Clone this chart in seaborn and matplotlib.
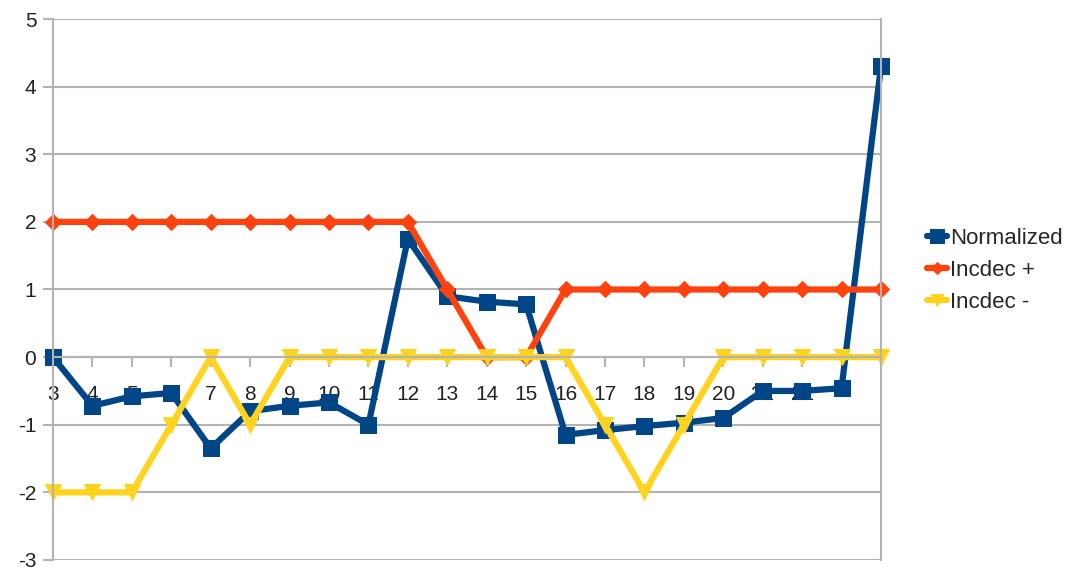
import matplotlib
matplotlib.use("Agg")
import matplotlib.pyplot as plt
import seaborn as sns
import pandas as pd

positions = list(range(3, 25))
tick_labels = [str(v) for v in range(3, 23)] + ["", ""]
normalized = [0.0, -0.72, -0.58, -0.53, -1.35, -0.8, -0.72, -0.67, -1.0, 1.75, 0.9,
              0.82, 0.78, -1.15, -1.08, -1.02, -0.97, -0.9, -0.5, -0.5, -0.46, 4.3]
incdec_plus = [2, 2, 2, 2, 2, 2, 2, 2, 2, 2, 1, 0, 0, 1, 1, 1, 1, 1, 1, 1, 1, 1]
incdec_minus = [-2, -2, -2, -1, 0, -1, 0, 0, 0, 0, 0, 0, 0, 0, -1, -2, -1, 0, 0, 0, 0, 0]

series_names = ["Normalized", "Incdec +", "Incdec -"]
colors = {"Normalized": "#004586", "Incdec +": "#ff420e", "Incdec -": "#ffd320"}
markers = {"Normalized": "s", "Incdec +": "D", "Incdec -": "v"}
msizes = {"Normalized": 12, "Incdec +": 8, "Incdec -": 11}

df = pd.concat([
    pd.DataFrame({"x": positions, "value": vals, "series": name})
    for name, vals in zip(series_names, [normalized, incdec_plus, incdec_minus])
])

sns.set_theme(style="white")
plt.rcParams["font.family"] = ["Liberation Sans", "DejaVu Sans"]
plt.rcParams["axes.unicode_minus"] = False

fig = plt.figure(figsize=(10.91, 5.71), dpi=100)
ax = fig.add_axes([0.0486, 0.0193, 0.7589, 0.9474])

for name in series_names:
    sub = df[df["series"] == name]
    sns.lineplot(data=sub, x="x", y="value", ax=ax, color=colors[name],
                 marker=markers[name], markersize=msizes[name],
                 markeredgecolor=colors[name], linewidth=4.5, label=name,
                 clip_on=False, sort=False)

ax.set_xlim(3, 24)
ax.set_ylim(-3, 5)
ax.set_yticks(range(-3, 6))
ax.set_xticks(positions)
ax.set_xticklabels(tick_labels)
ax.set_xlabel("")
ax.set_ylabel("")
ax.yaxis.grid(True, color="#b3b3b3", linewidth=1.5)
ax.set_axisbelow(True)

ax.spines["top"].set_visible(False)
ax.spines["bottom"].set_position(("data", 0))
for s in ["left", "right", "bottom"]:
    ax.spines[s].set_color("#b3b3b3")
    ax.spines[s].set_linewidth(1.5)

ax.tick_params(axis="y", left=True, length=7, width=1.5, color="#b3b3b3",
               labelsize=15, pad=5, labelcolor="#222222")
ax.tick_params(axis="x", bottom=True, direction="out", length=7, width=1.5,
               color="#b3b3b3", labelsize=15, pad=13, labelcolor="#222222")

ax.legend(loc="center left", bbox_to_anchor=(1.045, 0.535), frameon=False,
          fontsize=16, handlelength=0.9, handletextpad=0.15, labelspacing=0.5,
          borderaxespad=0, markerscale=0.8)

fig.savefig("out.png", dpi=100)
